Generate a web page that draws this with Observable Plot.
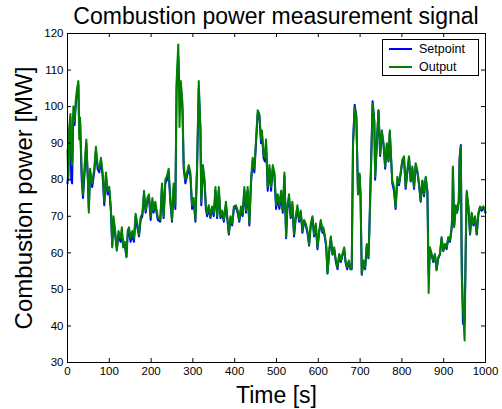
<!DOCTYPE html>
<html><head><meta charset="utf-8">
<script src="https://cdn.jsdelivr.net/npm/d3@7"></script>
<script src="https://cdn.jsdelivr.net/npm/@observablehq/plot@0.6"></script>
<style>
body{margin:0;background:#fff;font-family:Arial,"Liberation Sans",sans-serif;}
#wrap{position:relative;width:502px;height:409px;overflow:hidden;}
#title{height:29px;padding-top:2px;line-height:29px;margin-left:67px;width:418px;text-align:center;font-size:23px;white-space:nowrap;color:#000;}
#legend{position:absolute;left:382px;top:39px;width:95px;height:35px;border:1px solid #000;background:#fff;font-size:12.5px;}
#legend .row{position:absolute;left:0;height:16px;line-height:16px;}
#legend .sw{position:absolute;left:6px;top:7px;width:23px;height:2px;}
#legend .lab{position:absolute;left:36px;top:0;white-space:nowrap;}
</style>
</head><body>
<div id="wrap">
<div id="title">Combustion power measurement signal</div>
<div id="chart"></div>
<div id="legend"></div>
</div>
<script>
const time = [0,2,4,7,9,11,14,17,20,23, 26,28,30,34,37,41,45,49,51,54, 59,64,68,72,76,80,84,88,92,96,
 100,104,107,110,114,118,122,127,130,133, 137,141,144,147,151,155,159,163,167,171, 175,179,183,187,191,195,199,203,206,210,
 216,222,226,230,234,238,242,246,250,254, 258,261,265,268,271,275,278,282,286,290, 294,298,302,306,310,314,318,320,324,328,
 331,334,338,342,346,350,354,358,362,366, 370,374,379,383,386,390,394,398,403,407, 411,415,419,423,427,431,435,439,443,447,
 451,455,459,463,465,469,472,475,479,483, 487,491,495,499,503,507,511,515,519,523, 526,530,534,538,542,546,550,554,558,562,
 566,570,574,578,582,586,590,594,598,602, 606,610,612,616,619,622,626,630,634,638, 642,646,650,654,658,662,665,669,673,677,
 680,683,687,691,695,699,701,704,708,712, 716,720,722,726,730,734,736,740,744,748, 752,756,760,764,768,771,774,777,781,785,
 789,793,797,801,805,809,813,817,821,825, 829,833,837,841,845,849,853,857,861,864, 867,871,875,879,883,887,891,895,899,903,
 907,911,915,919,921,922,925,929,932,936, 938,941,943,946,950,953,955,959,963,967, 971,975,979,983,987,991,995,1000];

const output = [88,80,94,98,86,84,100,96,102,105, 107,91,97,82,76,84,91,80,71,83, 79,83,89,84,83,86,82,74,82,77,
 78,72,61.5,70,66,60.6,66,64,67,61.5, 63,58.8,66,67,64,66,64,70.7,68,65, 69.8,70.7,77,71.6,75,76,69.8,75,71.6,74,
 69.8,69,79,70,80,81,83,75,69,79, 73,107,117,94.4,107,101,84,80,82,84, 82,73,75,69,84,107,93.5,74,84,80,
 73,70.7,73,70,72.7,70.7,78,70,78,70, 71.6,69,74,69,65.3,70,68,72.7,73,71.6, 69,72.7,70.7,78,71.6,78,68,80,86,83,
 91,99,98,91,93.5,87,86,91,78,84, 78,84,82,73,76,73,77,71.6,82,64.3, 73,76,70,74,65,70,73,69,71.6,66,
 69,68,66,62.4,68,70,65,68,61.5,66, 69,66,67,64.5,62,54.3,60.6,64.5,59.7,61.5, 57.9,56,59.7,57.9,59.7,61.5,57.9,56,57.9,55.5,
 56,89,99.8,97,76,81.7,76,54.3,57.9,56, 62.4,58.8,65,82.5,100.8,96,80.8,90,98.9,87, 93.5,90,83.6,90,85.4,93.5,86.4,79.8,78,72.5,
 80.8,79,82,85.4,86.4,78,82.5,86.4,79.8,83.6, 78,84.5,82.5,79,74.3,79.8,76,80.8,77,49, 61.5,59.7,57.9,59.7,55.2,58.8,59.7,64.3,60.6,62.4,
 61.5,64.3,63.4,67,71.6,83.6,67,73,71,74, 85.4,89,54.3,45,36,65,77,73,65.2,71, 68,70,65.2,71,72.7,72,72.7,71];

const setpoint = [79,82,92,97,80,79,98,95,101,104, 106,93,96,80,75,82,90,79,72,82, 78,82,88,83,82,85,81,73,81,76,
 77,71,62,69,65,61,65,63,66,62, 62,59,65,66,63,65,63,70,67,64.5, 69,70,76,71,74,75,69,74,71,73,
 69,68.5,78,69.5,79,80,82,74,68.5,78, 72,105,114,104,106,99,83,79,81,83, 81,72,74,68.5,83,105,94,73,83,79,
 72,70,72,69.5,72,70,77,69.5,77,69.5, 71,68.5,73,68.5,65,69.5,67.5,72,72.5,71, 68.5,72,70,77,71,77,67.5,79,85,82,
 90,98,97.5,90,93,86,85,90,77,83, 77,83,81,72,75,72,76,71,81,64, 72,75,69.5,73,64.5,69.5,72,68.5,71,65.5,
 68.5,67.5,65.5,62,67.5,69.5,64.5,67.5,61,65.5, 68.5,65.5,66.5,64,61.5,54.5,60,64,59.5,61, 57.5,55.5,59.5,57.5,59.5,61,57.5,55.5,57.5,55.5,
 55.5,90,100.5,97.5,76,81,75.5,54,57.5,55.5, 62,58.5,66,84,101.5,96,80,90,99,86.5, 93,89.5,83,89.5,85,93,86,79,77,72,
 80,78.5,81.5,85,86,77.5,82,86,79.5,83, 77.5,84,82,78.5,74,79.5,75.5,80.5,76.5,54, 61,59.5,57.5,59.5,55.5,58.5,59.5,64,60.5,62,
 61,64,63,66.5,72,83,67.5,72.5,71,74, 86,89.5,60,40.6,41,63,76,72.5,65,70.5, 67.5,69.5,65,70.5,72.5,71.5,72.5,71];

const xTicks = [0,100,200,300,400,500,600,700,800,900,1000];
const yTicks = [30,40,50,60,70,80,90,100,110,120];
const seriesNames = ["Setpoint","Output"];
const seriesColors = ["#0000ff","#008000"];

const data = time.map((t,i)=>({t, setpoint: setpoint[i], output: output[i]}));

const W = 502, H = 378, mT = 2, mL = 67, mR = 17, mB = 47;
const fH = H - mT - mB, fW = W - mL - mR;

const chart = Plot.plot({
  width: W, height: H, marginTop: mT, marginLeft: mL, marginRight: mR, marginBottom: mB,
  style: {fontFamily: "Arial, 'Liberation Sans', sans-serif", fontSize: "11.5px", overflow: "visible", background: "transparent", color: "#000"},
  x: {domain: [0, 1000]},
  y: {domain: [30, 120]},
  marks: [
    Plot.line(data, {x: "t", y: "setpoint", stroke: seriesColors[0], strokeWidth: 2}),
    Plot.line(data, {x: "t", y: "output", stroke: seriesColors[1], strokeWidth: 2}),
    Plot.frame({stroke: "#000", strokeWidth: 1}),
    Plot.tickX(xTicks, {x: d => d, insetTop: fH - 4, stroke: "#000"}),
    Plot.tickX(xTicks, {x: d => d, insetBottom: fH - 4, stroke: "#000"}),
    Plot.tickY(yTicks, {y: d => d, insetRight: fW - 4, stroke: "#000"}),
    Plot.tickY(yTicks, {y: d => d, insetLeft: fW - 4, stroke: "#000"}),
    Plot.axisX(xTicks, {tickSize: 0, tickPadding: 4, label: null, tickFormat: d => String(d)}),
    Plot.axisY(yTicks, {tickSize: 0, tickPadding: 4, label: null, tickFormat: d => String(d)}),
    Plot.text(["Time [s]"], {frameAnchor: "bottom", text: d => d, dy: 33, fontSize: 23, textAnchor: "middle", lineAnchor: "middle"}),
    Plot.text(["Combustion power [MW]"], {frameAnchor: "left", text: d => d, dx: -43, rotate: -90, fontSize: 24, textAnchor: "middle", lineAnchor: "middle"})
  ]
});
document.getElementById("chart").appendChild(chart);

const leg = document.getElementById("legend");
seriesNames.forEach((name, i) => {
  const row = document.createElement("div");
  row.className = "row";
  row.style.top = (1 + i * 17.5) + "px";
  row.style.width = "95px";
  row.innerHTML = `<div class="sw" style="background:${seriesColors[i]}"></div><div class="lab">${name}</div>`;
  leg.appendChild(row);
});
</script>
</body></html>
